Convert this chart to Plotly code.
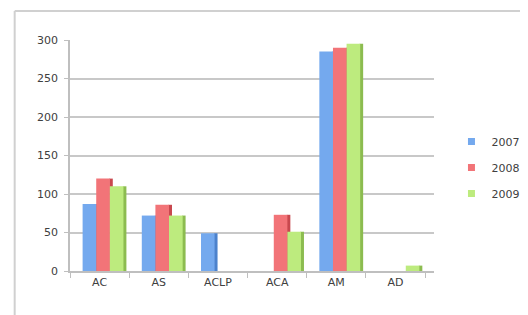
import plotly.graph_objects as go

categories = ["AC", "AS", "ACLP", "ACA", "AM", "AD"]
series_names = ["2007", "2008", "2009"]
values_2007 = [87, 72, 49, 0, 285, 0]
values_2008 = [120, 86, 0, 73, 290, 0]
values_2009 = [110, 72, 0, 51, 295, 7]
y_ticks = [0, 50, 100, 150, 200, 250, 300]

colors = ["#74A9EE", "#F27478", "#BDEB7E"]
side_colors = ["#4C82CC", "#C8484E", "#8CBC50"]

bar_w = 0.23      # front face width (category units)
side_w = 0.06     # depth face width
start = -0.287

fig = go.Figure()
series_values = [values_2007, values_2008, values_2009]
for i, (name, vals, c, sc) in enumerate(zip(series_names, series_values, colors, side_colors)):
    o = start + i * bar_w
    # side (depth) face
    fig.add_trace(go.Bar(
        x=categories, y=vals, name=name + " side", showlegend=False,
        offset=o + bar_w - 0.01, width=side_w, hoverinfo="skip",
        marker=dict(color=sc, line=dict(width=0)),
    ))
    # front face
    fig.add_trace(go.Bar(
        x=categories, y=vals, name=name, showlegend=False,
        offset=o, width=bar_w,
        marker=dict(color=c, line=dict(width=0)),
    ))
# legend entries with small square swatches
for name, c in zip(series_names, colors):
    fig.add_trace(go.Scatter(
        x=[None], y=[None], mode="markers", name=name, legendgroup=name,
        marker=dict(symbol="square", size=7, color=c),
    ))

off = 8  # page body margin
left, pw, top, ph = 70 - off, 375, 40 - off, 231
W, H = 528, 315
fx0 = (13 - off - left) / pw
fy1 = 1 + (top - (11 - off)) / ph

fig.update_layout(
    width=W, height=H,
    margin=dict(l=left, r=W - left - pw, t=top, b=H - top - ph),
    paper_bgcolor="white", plot_bgcolor="white",
    barmode="overlay",
    font=dict(family="DejaVu Sans", size=11, color="#404040"),
    showlegend=True,
    legend=dict(x=(463 - off - left) / pw, y=1 - (127 - off - top) / ph,
                xanchor="left", yanchor="top", traceorder="grouped",
                font=dict(size=11, color="#404040"),
                itemwidth=30, tracegroupgap=7, itemsizing="trace",
                bgcolor="rgba(0,0,0,0)"),
    shapes=[
        dict(type="line", xref="paper", yref="paper", x0=fx0, x1=fx0, y0=fy1, y1=-0.5,
             line=dict(color="#D0D0D0", width=2)),
        dict(type="line", xref="paper", yref="paper", x0=fx0, x1=1.5, y0=fy1, y1=fy1,
             line=dict(color="#D0D0D0", width=2)),
    ],
)
fig.update_xaxes(
    type="category", range=[-0.5, 5.65],
    showline=True, linecolor="#BFBFBF", linewidth=1.5,
    ticks="outside", tickson="boundaries", ticklen=5, tickcolor="#BFBFBF",
    showgrid=False, tickfont=dict(size=11, color="#404040"),
)
fig.update_yaxes(
    range=[0, 300], tickvals=y_ticks,
    showline=True, linecolor="#BFBFBF", linewidth=1.5,
    ticks="outside", ticklen=4, tickcolor="#BFBFBF", ticklabelstandoff=4,
    showgrid=True, gridcolor="#C8C8C8", gridwidth=1.5,
    zeroline=False, tickfont=dict(size=11, color="#404040"),
)

fig.write_html("out.html")
